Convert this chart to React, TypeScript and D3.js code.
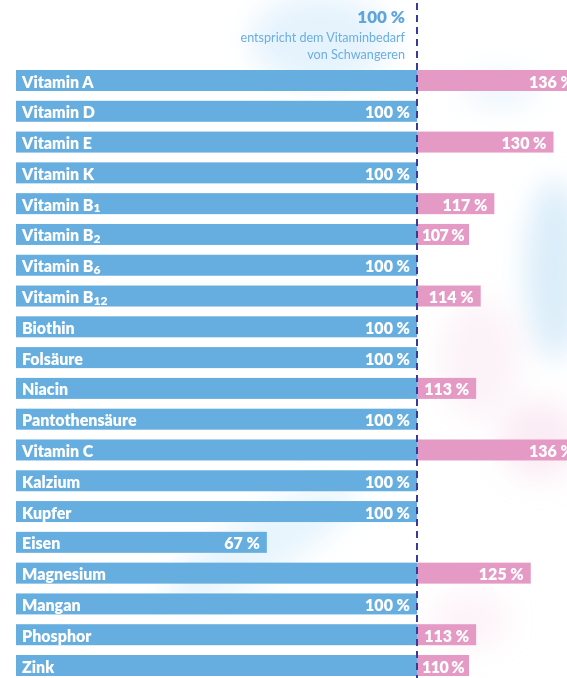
import React from "react";
import * as d3 from "d3";

const categories = [
  "Vitamin A", "Vitamin D", "Vitamin E", "Vitamin K", "Vitamin B|1", "Vitamin B|2",
  "Vitamin B|6", "Vitamin B|12", "Biothin", "Folsäure", "Niacin", "Pantothensäure",
  "Vitamin C", "Kalzium", "Kupfer", "Eisen", "Magnesium", "Mangan", "Phosphor", "Zink",
];
const values = [136, 100, 130, 100, 117, 107, 100, 114, 100, 100, 113, 100, 136, 100, 100, 67, 125, 100, 113, 110];
const refValue = 100;
const headerLines = ["100 %", "entspricht dem Vitaminbedarf", "von Schwangeren"];

const W = 567;
const H = 678;
const BLUE = "#67aee0";
const PINK = "#e49ac4";
const FONT = "Lato, 'Open Sans', sans-serif";

export default function App() {
  const left = 16;
  const x = d3.scaleLinear().domain([0, refValue]).range([417 - refValue * 4.55, 417]);
  const y = d3.scaleBand<string>().domain(categories).range([70, 676]).paddingInner(0.318).paddingOuter(0);
  const bh = y.bandwidth();
  const minPink = 52;

  return (
    <svg width={W} height={H} style={{ position: "fixed", left: 0, top: 0, background: "#fff" }}>
      <defs>
        <filter id="blur" x="-50%" y="-50%" width="200%" height="200%">
          <feGaussianBlur stdDeviation="14" />
        </filter>
      </defs>
      <g filter="url(#blur)">
        <ellipse cx={320} cy={40} rx={70} ry={45} fill="#cfe9fb" opacity={0.55} />
        <ellipse cx={555} cy={270} rx={30} ry={90} fill="#b7dcf6" opacity={0.5} />
        <ellipse cx={500} cy={90} rx={40} ry={20} fill="#d6ecfb" opacity={0.4} />
        <ellipse cx={480} cy={360} rx={40} ry={60} fill="#f6d6e8" opacity={0.3} />
        <ellipse cx={540} cy={440} rx={40} ry={40} fill="#f4cfe3" opacity={0.4} />
        <ellipse cx={260} cy={545} rx={110} ry={30} fill="#d3ecfb" opacity={0.55} transform="rotate(-30 260 545)" />
        <ellipse cx={470} cy={620} rx={40} ry={30} fill="#f7dbea" opacity={0.3} />
      </g>

      {/* header */}
      <g fontFamily={FONT} textAnchor="end">
        <text x={405} y={23} fontSize={17} fontWeight={800} fill="#5ea5db">{headerLines[0]}</text>
        <text x={405} y={41.5} fontSize={12.6} fill="#6aaee2">{headerLines[1]}</text>
        <text x={405} y={59} fontSize={12.6} fill="#6aaee2">{headerLines[2]}</text>
      </g>

      {categories.map((c, i) => {
        const v = values[i];
        const yy = y(c)!;
        const blueEnd = x(Math.min(v, refValue));
        const over = v > refValue;
        const pinkEnd = over ? Math.max(x(v), x(refValue) + minPink) : blueEnd;
        const [name, sub] = c.split("|");
        const label = `${v} %`;
        const tight = over && x(v) < x(refValue) + minPink;
        return (
          <g key={c} fontFamily={FONT} fontWeight={800} fill="#fff">
            <rect x={left} y={yy} width={blueEnd - left} height={bh} fill={BLUE} />
            {over && <rect x={blueEnd} y={yy} width={pinkEnd - blueEnd} height={bh} fill={PINK} />}
            <text x={left + 6} y={yy + 17.5} fontSize={16}>
              {name}
              {sub && <tspan fontSize={12} dy={1.5}>{sub}</tspan>}
            </text>
            <text x={(over ? pinkEnd : blueEnd) - (tight ? 5 : 7)} y={yy + 17.5} fontSize={16} textAnchor="end"
              letterSpacing={tight ? -0.6 : 0}>{label}</text>
          </g>
        );
      })}

      <line x1={x(refValue)} x2={x(refValue)} y1={3} y2={H} stroke="#3b3a96" strokeWidth={2} strokeDasharray="7,5" />
    </svg>
  );
}
